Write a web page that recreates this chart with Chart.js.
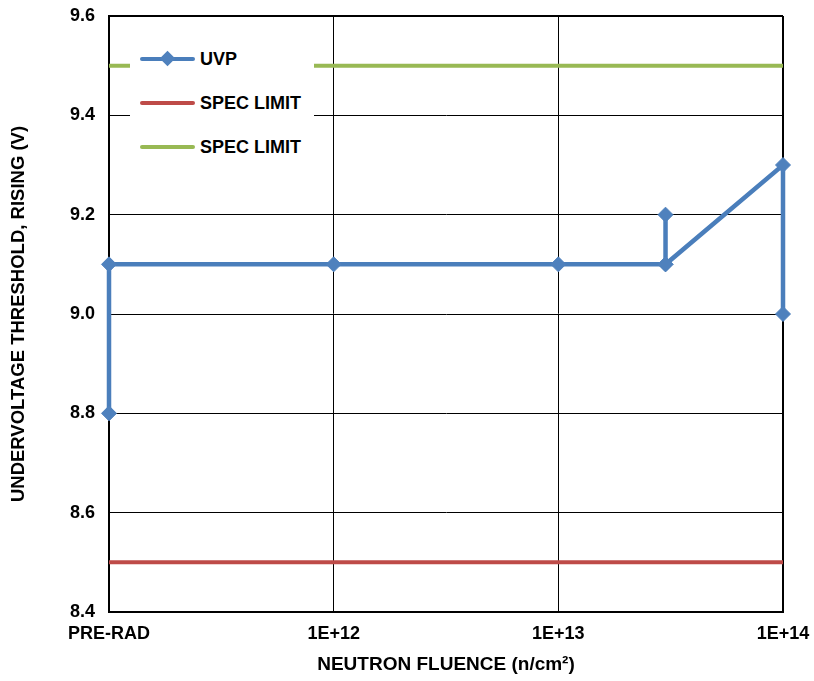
<!DOCTYPE html>
<html><head><meta charset="utf-8">
<script src="https://cdn.jsdelivr.net/npm/chart.js@4"></script>
<style>
html,body{margin:0;padding:0;background:#fff;}
#wrap{position:relative;width:814px;height:681px;}
#legend{position:absolute;left:130px;top:32px;width:184px;height:142px;background:#fff;font:bold 18px "Liberation Sans",Arial,sans-serif;color:#000;}
.item{position:absolute;left:10px;height:24px;display:flex;align-items:center;white-space:nowrap;}
.swatch{width:55px;height:4px;position:relative;margin-right:5px;border-radius:2px;}
.dia{position:absolute;left:22px;top:-4.5px;width:11px;height:11px;transform:rotate(45deg);}
</style>
</head><body>
<div id="wrap"><canvas id="c" width="814" height="681"></canvas><div id="legend"></div></div>
<script>
const xTickValues = [1e11, 1e12, 1e13, 1e14];
const xTickLabels = ['PRE-RAD', '1E+12', '1E+13', '1E+14'];
const yTickValues = [8.4, 8.6, 8.8, 9.0, 9.2, 9.4, 9.6];
const uvpFluence = [1e11, 1e11, 1e12, 1e13, 3e13, 3e13, 3e13, 1e14, 1e14];
const uvpVolts = [8.8, 9.1, 9.1, 9.1, 9.1, 9.2, 9.1, 9.3, 9.0];
const specFluence = [1e11, 1e14];
const specLow = [8.5, 8.5];
const specHigh = [9.5, 9.5];
const seriesNames = ['UVP', 'SPEC LIMIT', 'SPEC LIMIT'];
const seriesColors = ['#4A7EBB', '#BE4B48', '#98B954'];

const pts = (xs, ys) => xs.map((x, i) => ({x: x, y: ys[i]}));
const FAM = '"Liberation Sans", Arial, sans-serif';
const TICKFONT = {family: FAM, size: 18, weight: 'bold'};

new Chart(document.getElementById('c'), {
  type: 'line',
  data: {
    datasets: [
      {label: seriesNames[0], data: pts(uvpFluence, uvpVolts), borderColor: seriesColors[0], backgroundColor: seriesColors[0],
       borderWidth: 4.5, pointStyle: 'rectRot', pointRadius: 7.5, pointBorderWidth: 1, pointBackgroundColor: '#4F81BD', pointBorderColor: '#4F81BD', clip: false, tension: 0},
      {label: seriesNames[1], data: pts(specFluence, specLow), borderColor: seriesColors[1], borderWidth: 4, pointRadius: 0, clip: false},
      {label: seriesNames[2], data: pts(specFluence, specHigh), borderColor: seriesColors[2], borderWidth: 4, pointRadius: 0, clip: false}
    ]
  },
  options: {
    responsive: false,
    animation: false,
    layout: {padding: {top: 16, right: 31, bottom: 0, left: 0}},
    plugins: {legend: {display: false}, tooltip: {enabled: false}},
    scales: {
      x: {
        type: 'logarithmic', min: xTickValues[0], max: xTickValues[xTickValues.length - 1],
        afterBuildTicks: s => { s.ticks = xTickValues.map(v => ({value: v})); },
        afterFit: s => { s.height = 69; s.paddingLeft = 0; s.paddingRight = 0; },
        ticks: {font: TICKFONT, color: '#000', padding: 11, maxRotation: 0, autoSkip: false,
                callback: (v) => xTickLabels[xTickValues.indexOf(v)]},
        grid: {color: '#000', drawTicks: false, lineWidth: c => (c.tick && c.tick.value === 1e14) ? 2 : 1},
        border: {display: true, color: '#000', width: 2},
        title: {display: true, text: 'NEUTRON FLUENCE (n/cm²)', font: {family: FAM, size: 19, weight: 'bold'}, color: '#000', padding: {top: 0, bottom: 5}}
      },
      y: {
        min: yTickValues[0], max: yTickValues[yTickValues.length - 1],
        afterBuildTicks: s => { s.ticks = yTickValues.map(v => ({value: v})); },
        afterFit: s => { s.width = 109; s.paddingTop = 0; s.paddingBottom = 0; },
        ticks: {font: TICKFONT, color: '#000', padding: 14, callback: v => Number(v).toFixed(1)},
        grid: {color: '#000', drawTicks: false, lineWidth: c => (c.tick && Math.abs(c.tick.value - 9.6) < 1e-9) ? 2 : 1},
        border: {display: true, color: '#000', width: 2},
        title: {display: true, text: 'UNDERVOLTAGE THRESHOLD, RISING (V)', font: {family: FAM, size: 18.5, weight: 'bold'}, color: '#000', padding: {top: 8, bottom: 0}}
      }
    }
  }
});

const lg = document.getElementById('legend');
const centers = [27, 71, 115];
seriesNames.forEach((n, i) => {
  const it = document.createElement('div');
  it.className = 'item';
  it.style.top = (centers[i] - 12) + 'px';
  const sw = document.createElement('div');
  sw.className = 'swatch';
  sw.style.background = seriesColors[i];
  if (i === 0) {
    const d = document.createElement('div');
    d.className = 'dia';
    d.style.background = '#4F81BD';
    sw.appendChild(d);
  }
  it.appendChild(sw);
  const t = document.createElement('span');
  t.textContent = n;
  it.appendChild(t);
  lg.appendChild(it);
});
</script>
</body></html>
